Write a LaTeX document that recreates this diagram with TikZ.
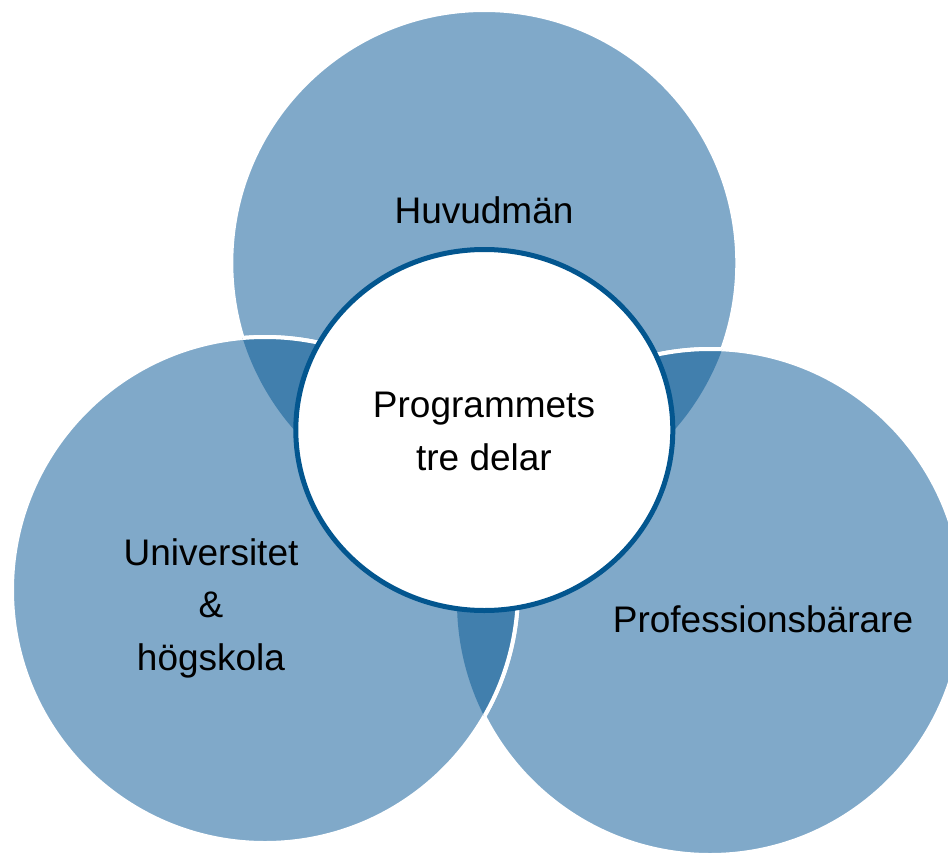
\documentclass[tikz,border=0pt]{standalone}
\usepackage{fontspec}
\setmainfont{Liberation Sans}
\definecolor{lightblue}{HTML}{80A9C9}
\definecolor{darkblue}{HTML}{417FAD}
\definecolor{ringblue}{HTML}{03568F}
\tikzset{
  outer/.style={fill=lightblue},
  rim/.style={draw=white, line width=4pt},
  overlap/.style={fill=darkblue},
  label/.style={font=\fontsize{37}{52.5}\selectfont, align=center, text=black, inner sep=0pt}
}
\begin{document}
\begin{tikzpicture}[x=1pt,y=-1pt]
\useasboundingbox (0,0) rectangle (948,854);
\clip (0,0) rectangle (948,854);
% circles in drawing order: top, right, left
\fill[outer] (484.3,263) circle (253);
\draw[rim] (484.3,263) circle (253);
\fill[outer] (710,602) circle (253);
\draw[rim] (710,602) circle (253);
\fill[outer] (265,590) circle (253);
\draw[rim] (265,590) circle (253);
% overlaps
\begin{scope}
  \clip (484.3,263) circle (253);
  \fill[overlap] (265,590) circle (253);
  \draw[rim] (265,590) circle (253);
\end{scope}
\begin{scope}
  \clip (484.3,263) circle (253);
  \fill[overlap] (710,602) circle (253);
  \draw[rim] (710,602) circle (253);
\end{scope}
\begin{scope}
  \clip (710,602) circle (253);
  \fill[overlap] (265,590) circle (253);
  \draw[rim] (265,590) circle (253);
\end{scope}
% centre circle
\draw[fill=white, draw=ringblue, line width=5pt] (484.3,430) ellipse [x radius=188.5, y radius=180.5];
% labels (base anchor = baseline of the last line)
\node[label, anchor=base] (top) at (484,223) {Huvudmän};
\node[label, anchor=base] (mid) at (484,470) {Programmets\\tre delar};
\node[label, anchor=base] (left) at (211,670) {Universitet\\\&\\högskola};
\node[label, anchor=base] (right) at (763,632) {Professionsbärare};
\end{tikzpicture}
\end{document}
